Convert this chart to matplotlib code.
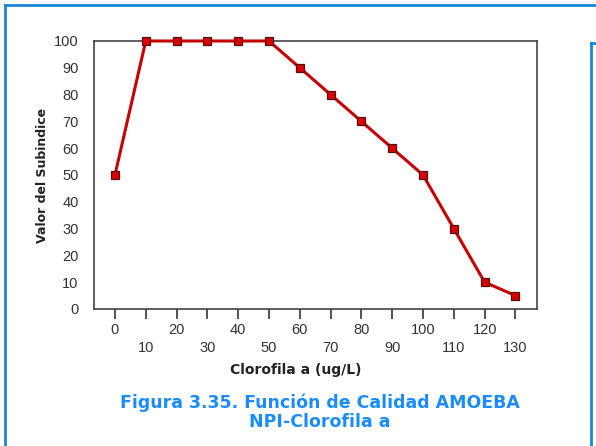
import matplotlib
matplotlib.use("Agg")
import matplotlib.pyplot as plt
from matplotlib.lines import Line2D

# Clorofila a (ug/L) vs valor del subindice
clorofila = [0, 10, 20, 30, 40, 50, 60, 70, 80, 90, 100, 110, 120, 130]
subindice = [50, 100, 100, 100, 100, 100, 90, 80, 70, 60, 50, 30, 10, 5]
y_ticks = [0, 10, 20, 30, 40, 50, 60, 70, 80, 90, 100]

BLUE = '#1b86d6'
TICK_FONT = ['Liberation Sans', 'DejaVu Sans']

fig = plt.figure(figsize=(5.96, 4.46), dpi=100)
fig.patch.set_facecolor('white')

# blue frames of the page
fig.add_artist(Line2D([5/596, 5/596], [0, 1 - 5/446], color=BLUE, lw=2))
fig.add_artist(Line2D([5/596, 1], [1 - 5/446, 1 - 5/446], color=BLUE, lw=2))
fig.add_artist(Line2D([591/596, 591/596], [0, 1 - 43/446], color=BLUE, lw=2))
fig.add_artist(Line2D([591/596, 1], [1 - 43/446, 1 - 43/446], color=BLUE, lw=2))

ax = fig.add_axes([94/596, 1 - 309/446, 443/596, 268/446])
ax.plot(clorofila, subindice, color='#c80000', lw=2.2, marker='s', ms=5.5,
        markerfacecolor='#dd0000', markeredgecolor='#551111', mew=0.9,
        clip_on=False, zorder=3)

ax.set_xlim(-6.8, 137)
ax.set_ylim(0, 100)
for s in ax.spines.values():
    s.set_color('#444444')
    s.set_linewidth(1.2)

ax.set_xticks(clorofila)
ax.set_xticklabels([str(v) if i % 2 == 0 else '\n' + str(v)
                    for i, v in enumerate(clorofila)],
                   family=TICK_FONT, fontsize=10.5, color='#333333', linespacing=1.4)
ax.tick_params(axis='x', direction='out', length=7, width=1.3, color='#444444', pad=3)

ax.set_yticks(y_ticks)
ax.set_yticklabels([str(v) for v in y_ticks], family=TICK_FONT, fontsize=10.5, color='#333333')
ax.tick_params(axis='y', length=0, pad=11)

ax.set_ylabel('Valor del Subindice', fontsize=9, fontweight='bold',
              color='#222222', labelpad=4)
fig.text(296/596, 1 - 370/446, 'Clorofila a (ug/L)', fontsize=10, fontweight='bold',
         color='#222222', ha='center', va='center')

fig.text(320/596, 1 - 403/446, 'Figura 3.35. Función de Calidad AMOEBA',
         fontsize=12.5, fontweight='bold', color='#1a8cff', ha='center', va='center')
fig.text(320/596, 1 - 422/446, 'NPI-Clorofila a',
         fontsize=12.5, fontweight='bold', color='#1a8cff', ha='center', va='center')

fig.savefig('out.png', dpi=100)
